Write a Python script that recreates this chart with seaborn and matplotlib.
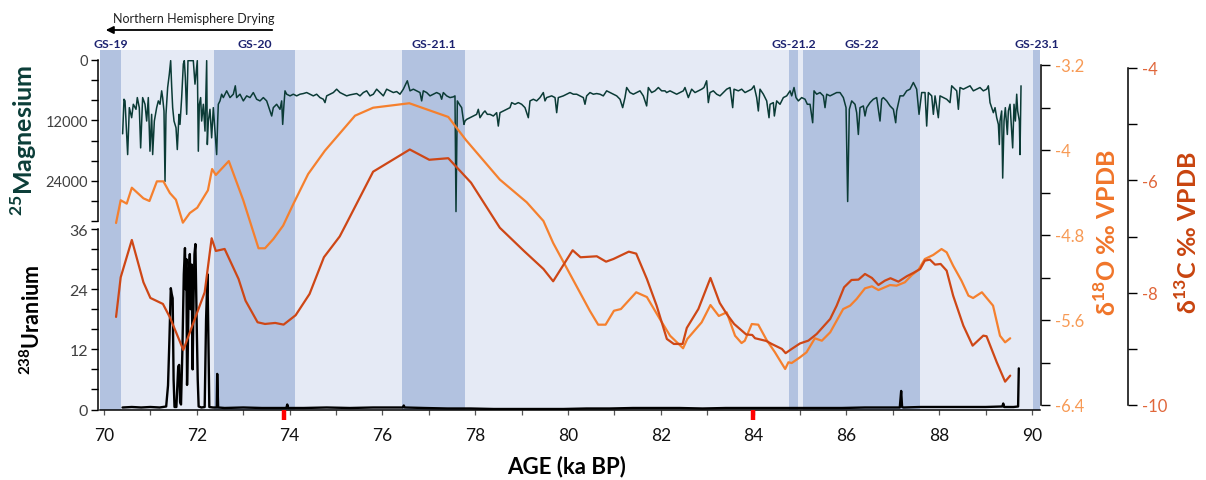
import matplotlib
matplotlib.use("Agg")
import matplotlib.pyplot as plt
import seaborn as sns
import pandas as pd
from matplotlib.ticker import FixedLocator, FixedFormatter

# ---------------- data ----------------
# GS stadial bands (ka BP)
band_names = ["GS-19", "GS-20", "GS-21.1", "GS-21.2", "GS-22", "GS-23.1"]
band_start = [69.914, 72.371, 76.422, 84.763, 85.065, 90.022]
band_end = [70.366, 74.116, 77.780, 84.957, 87.586, 90.172]

# red markers on the age axis
red_marks = [73.88, 83.99]

# 25Mg (age ka, counts)
magnesium = [
    (70.402, 14670), (70.431, 7800), (70.453, 8130), (70.510, 18800), (70.546, 9470),
    (70.596, 11470), (70.632, 8800), (70.690, 9800), (70.718, 7470), (70.761, 9470),
    (70.790, 17470), (70.833, 7470), (70.884, 8800), (70.920, 12130), (70.955, 7470),
    (70.991, 18130), (71.027, 10800), (71.049, 18800), (71.085, 12130), (71.135, 9470),
    (71.171, 8130), (71.207, 8800), (71.243, 6130), (71.264, 7470), (71.293, 10130),
    (71.315, 24130), (71.336, 10800), (71.372, 5470), (71.408, 2800), (71.437, 130),
    (71.458, 5130), (71.480, 9470), (71.509, 12130), (71.552, 13470), (71.580, 17800),
    (71.616, 10800), (71.638, 12800), (71.674, 7470), (71.710, 800), (71.731, 130),
    (71.753, 3470), (71.782, 10800), (71.810, 130), (71.853, 130), (71.897, 130),
    (71.925, 130), (71.961, 4800), (71.983, 2800), (72.011, 130), (72.033, 18130),
    (72.055, 8800), (72.083, 7470), (72.105, 12130), (72.141, 8800), (72.177, 14130),
    (72.213, 130), (72.227, 16800), (72.249, 12130), (72.284, 9800), (72.320, 15470),
    (72.356, 9470), (72.392, 14130), (72.428, 18800), (72.450, 12130), (72.464, 8800),
    (72.500, 8130), (72.536, 6800), (72.572, 7470), (72.644, 6130), (72.716, 7470),
    (72.787, 6800), (72.830, 5130), (72.859, 7470), (72.931, 6800), (73.003, 8130),
    (73.075, 7130), (73.147, 7470), (73.218, 6470), (73.290, 7800), (73.362, 8130),
    (73.434, 7470), (73.506, 8130), (73.578, 10130), (73.614, 11130), (73.649, 9470),
    (73.721, 8800), (73.793, 9800), (73.829, 8130), (73.851, 12800), (73.879, 8800),
    (73.901, 6130), (73.937, 6800), (74.009, 7130), (74.080, 6800), (74.152, 7130),
    (74.224, 6800), (74.296, 6670), (74.368, 6470), (74.440, 6800), (74.511, 7130),
    (74.583, 6800), (74.655, 7470), (74.727, 7800), (74.763, 8470), (74.799, 7130),
    (74.871, 6800), (74.943, 6470), (75.014, 5800), (75.086, 6470), (75.158, 6800),
    (75.230, 7130), (75.302, 6930), (75.374, 6800), (75.445, 6670), (75.517, 7130),
    (75.589, 6470), (75.661, 6130), (75.733, 7130), (75.805, 6800), (75.876, 5800),
    (75.948, 6470), (76.020, 7130), (76.092, 5800), (76.164, 6130), (76.236, 6470),
    (76.307, 6270), (76.379, 6800), (76.451, 5800), (76.537, 4130), (76.595, 6130),
    (76.667, 5800), (76.738, 6130), (76.810, 6470), (76.846, 8130), (76.882, 6130),
    (76.954, 6470), (77.026, 7130), (77.097, 6800), (77.169, 6470), (77.241, 6800),
    (77.277, 7800), (77.313, 6470), (77.385, 7130), (77.457, 7470), (77.528, 7330),
    (77.564, 7130), (77.586, 30130), (77.615, 8130), (77.658, 8800), (77.708, 9470),
    (77.758, 12800), (77.780, 12130), (77.816, 11800), (77.888, 11470), (77.959, 11130),
    (78.031, 10800), (78.067, 9800), (78.103, 11470), (78.175, 10470), (78.211, 10130),
    (78.261, 10800), (78.319, 10800), (78.391, 11130), (78.462, 10470), (78.498, 13130),
    (78.534, 10470), (78.606, 10130), (78.678, 9800), (78.750, 9470), (78.786, 8470),
    (78.857, 8800), (78.929, 8470), (79.001, 8800), (79.073, 9470), (79.109, 10470),
    (79.145, 11470), (79.181, 8130), (79.253, 7800), (79.324, 8130), (79.396, 7470),
    (79.468, 6470), (79.504, 8130), (79.540, 7470), (79.648, 7130), (79.720, 7470),
    (79.756, 10470), (79.791, 7470), (79.899, 7130), (79.971, 6800), (80.043, 6470),
    (80.115, 6800), (80.187, 6800), (80.258, 7130), (80.330, 7470), (80.366, 8800),
    (80.402, 7130), (80.474, 6470), (80.546, 6800), (80.618, 6670), (80.689, 6800),
    (80.761, 7130), (80.833, 6130), (80.905, 6470), (80.977, 6800), (81.049, 7130),
    (81.121, 7800), (81.178, 9470), (81.228, 7470), (81.264, 5470), (81.336, 6470),
    (81.408, 6800), (81.480, 6470), (81.551, 6130), (81.623, 7130), (81.695, 9130),
    (81.731, 5470), (81.803, 6470), (81.875, 6130), (81.947, 5470), (82.018, 6130),
    (82.090, 6130), (82.126, 6470), (82.198, 6130), (82.270, 6470), (82.342, 6800),
    (82.414, 6470), (82.485, 6130), (82.521, 5470), (82.593, 7470), (82.665, 5800),
    (82.737, 6470), (82.809, 6130), (82.881, 5800), (82.931, 5470), (82.988, 4130),
    (83.024, 8470), (83.060, 6470), (83.132, 6130), (83.204, 6800), (83.276, 7130),
    (83.348, 6470), (83.420, 5800), (83.492, 5470), (83.549, 9470), (83.578, 5800),
    (83.671, 6130), (83.743, 5800), (83.815, 6470), (83.887, 6130), (83.958, 5800),
    (84.009, 5130), (84.066, 7470), (84.102, 10130), (84.138, 5800), (84.210, 6800),
    (84.282, 8130), (84.332, 11470), (84.354, 8800), (84.425, 8470), (84.447, 11130),
    (84.497, 8130), (84.569, 8800), (84.641, 7470), (84.713, 7130), (84.785, 6130),
    (84.821, 7130), (84.871, 5470), (84.914, 7470), (84.964, 8130), (85.036, 7470),
    (85.108, 7800), (85.158, 8800), (85.216, 8800), (85.273, 12470), (85.302, 6130),
    (85.359, 6800), (85.431, 6470), (85.503, 7130), (85.539, 9470), (85.575, 6800),
    (85.647, 7130), (85.719, 6800), (85.790, 6470), (85.862, 6470), (85.934, 7470),
    (85.992, 9470), (86.027, 28130), (86.063, 9800), (86.114, 8130), (86.185, 8800),
    (86.221, 10470), (86.257, 14800), (86.293, 9470), (86.365, 9130), (86.401, 11130),
    (86.437, 9470), (86.509, 8470), (86.580, 7800), (86.652, 7470), (86.724, 12130),
    (86.760, 7800), (86.796, 7470), (86.868, 8130), (86.940, 9130), (87.012, 9800),
    (87.062, 12470), (87.083, 10130), (87.155, 7130), (87.227, 7130), (87.299, 6130),
    (87.371, 5800), (87.443, 4470), (87.514, 5800), (87.565, 10800), (87.622, 6470),
    (87.694, 6470), (87.730, 13130), (87.766, 6470), (87.838, 7130), (87.874, 10800),
    (87.910, 7130), (87.981, 11470), (88.017, 7130), (88.089, 7470), (88.161, 7800),
    (88.233, 8470), (88.269, 5130), (88.305, 5470), (88.377, 6130), (88.413, 9800),
    (88.448, 5470), (88.520, 5800), (88.592, 5470), (88.664, 5130), (88.736, 6130),
    (88.808, 5800), (88.879, 5470), (88.951, 6130), (89.023, 5800), (89.059, 5130),
    (89.095, 8470), (89.131, 9470), (89.167, 10470), (89.203, 9470), (89.239, 11470),
    (89.275, 12800), (89.296, 16800), (89.310, 12130), (89.346, 10130), (89.368, 23470),
    (89.397, 12130), (89.425, 9470), (89.468, 14800), (89.490, 10130), (89.526, 8800),
    (89.562, 14130), (89.583, 17470), (89.612, 8800), (89.641, 12130), (89.670, 6800),
    (89.691, 10130), (89.727, 12130), (89.741, 18800), (89.763, 5130),
]

# 238U (age ka, counts)
uranium = [
    (70.40, 0.4), (70.60, 0.5), (70.80, 0.4), (71.00, 0.5), (71.20, 0.4), (71.34, 0.6),
    (71.38, 4.8), (71.41, 14.0), (71.44, 24.2), (71.46, 23.0), (71.48, 22.2), (71.50, 6.0),
    (71.52, 0.5), (71.56, 0.5), (71.60, 8.6), (71.62, 8.9), (71.64, 1.5), (71.66, 1.0),
    (71.69, 12.0), (71.72, 27.0), (71.745, 32.2), (71.76, 24.0), (71.775, 30.0), (71.79, 4.9),
    (71.81, 14.0), (71.83, 27.5), (71.85, 31.0), (71.87, 20.0), (71.89, 28.9), (71.91, 8.0),
    (71.93, 22.0), (71.95, 31.0), (71.97, 33.0), (72.00, 16.0), (72.02, 6.0), (72.04, 0.6),
    (72.10, 0.4), (72.17, 0.5), (72.20, 18.0), (72.23, 27.0), (72.25, 14.0), (72.27, 0.5),
    (72.35, 0.4), (72.43, 0.4), (72.44, 7.1), (72.46, 0.4), (72.60, 0.3), (73.00, 0.4),
    (73.40, 0.3), (73.80, 0.3), (73.93, 0.3), (73.95, 1.0), (73.97, 0.3), (74.30, 0.3),
    (74.80, 0.4), (75.30, 0.3), (75.80, 0.4), (76.20, 0.4), (76.44, 0.4), (76.46, 0.8),
    (76.48, 0.4), (76.90, 0.3), (77.40, 0.2), (77.90, 0.2), (78.40, 0.1), (78.90, 0.1),
    (79.40, 0.1), (79.90, 0.1), (80.40, 0.2), (80.90, 0.2), (81.40, 0.3), (81.90, 0.3),
    (82.40, 0.3), (82.90, 0.2), (83.40, 0.3), (83.90, 0.3), (84.40, 0.3), (84.90, 0.3),
    (85.40, 0.3), (85.90, 0.3), (86.40, 0.4), (86.90, 0.4), (87.15, 0.4), (87.18, 3.7),
    (87.20, 0.5), (87.23, 0.4), (87.60, 0.5), (88.00, 0.5), (88.50, 0.5), (89.00, 0.5),
    (89.36, 0.6), (89.38, 1.2), (89.40, 0.5), (89.60, 0.5), (89.70, 0.6), (89.715, 8.2),
]

# d18O (age ka, permil VPDB)
d18o = [
    (70.26, -4.687), (70.36, -4.473), (70.49, -4.505), (70.60, -4.355), (70.85, -4.455),
    (70.98, -4.480), (71.14, -4.295), (71.28, -4.295), (71.42, -4.405), (71.55, -4.468),
    (71.70, -4.684), (71.85, -4.593), (72.01, -4.543), (72.24, -4.379), (72.33, -4.179),
    (72.41, -4.235), (72.69, -4.104), (73.00, -4.471), (73.33, -4.925), (73.47, -4.925),
    (73.65, -4.838), (73.86, -4.712), (74.08, -4.508), (74.40, -4.226), (74.76, -4.007),
    (75.41, -3.677), (75.80, -3.602), (76.58, -3.560), (77.42, -3.689), (77.80, -3.906),
    (78.53, -4.278), (79.11, -4.492), (79.47, -4.668), (79.68, -4.875), (80.08, -5.198),
    (80.47, -5.513), (80.65, -5.644), (80.81, -5.644), (80.99, -5.513), (81.14, -5.497),
    (81.47, -5.339), (81.70, -5.384), (81.98, -5.591), (82.20, -5.748), (82.48, -5.866),
    (82.57, -5.779), (82.88, -5.622), (83.07, -5.459), (83.25, -5.562), (83.42, -5.528),
    (83.60, -5.748), (83.74, -5.817), (83.81, -5.795), (83.96, -5.638), (84.10, -5.644),
    (84.28, -5.788), (84.46, -5.904), (84.68, -6.061), (84.75, -5.998), (84.82, -6.005),
    (85.00, -5.951), (85.14, -5.904), (85.32, -5.772), (85.47, -5.795), (85.65, -5.716),
    (85.93, -5.497), (86.08, -5.465), (86.22, -5.402), (86.40, -5.302), (86.55, -5.283),
    (86.69, -5.318), (86.94, -5.271), (87.08, -5.277), (87.26, -5.245), (87.41, -5.177),
    (87.55, -5.129), (87.69, -5.026), (87.87, -4.988), (88.05, -4.932), (88.16, -4.963),
    (88.30, -5.089), (88.48, -5.230), (88.63, -5.371), (88.73, -5.393), (88.92, -5.339),
    (89.16, -5.465), (89.31, -5.748), (89.42, -5.810), (89.53, -5.772),
]

# d13C (age ka, permil VPDB)
d13c = [
    (70.26, -8.432), (70.36, -7.726), (70.60, -7.062), (70.85, -7.815), (71.00, -8.094),
    (71.27, -8.201), (71.42, -8.438), (71.71, -9.020), (72.17, -7.993), (72.32, -7.031),
    (72.41, -7.257), (72.60, -7.222), (72.90, -7.756), (73.05, -8.142), (73.31, -8.527),
    (73.47, -8.557), (73.69, -8.539), (73.87, -8.569), (74.13, -8.402), (74.43, -8.023),
    (74.74, -7.369), (75.08, -6.999), (75.22, -6.777), (75.80, -5.846), (76.59, -5.451),
    (77.01, -5.634), (77.42, -5.606), (77.91, -6.042), (78.53, -6.844), (79.05, -7.257),
    (79.47, -7.578), (79.68, -7.797), (80.10, -7.245), (80.27, -7.370), (80.62, -7.352),
    (80.82, -7.448), (80.98, -7.400), (81.31, -7.270), (81.47, -7.305), (81.70, -7.756),
    (81.91, -8.231), (82.13, -8.824), (82.28, -8.913), (82.47, -8.913), (82.56, -8.628),
    (82.81, -8.290), (83.07, -7.738), (83.27, -8.183), (83.42, -8.379), (83.58, -8.557),
    (83.84, -8.744), (83.97, -8.753), (84.03, -8.811), (84.27, -8.859), (84.39, -8.913),
    (84.61, -9.002), (84.69, -9.077), (84.82, -9.002), (85.00, -8.904), (85.18, -8.854),
    (85.36, -8.735), (85.65, -8.468), (85.79, -8.231), (85.95, -7.904), (86.11, -7.774),
    (86.26, -7.768), (86.40, -7.667), (86.55, -7.738), (86.69, -7.863), (86.83, -7.786),
    (86.95, -7.743), (87.12, -7.804), (87.30, -7.708), (87.44, -7.649), (87.59, -7.578),
    (87.69, -7.430), (87.80, -7.412), (87.91, -7.501), (88.03, -7.489), (88.16, -7.608),
    (88.30, -8.053), (88.52, -8.587), (88.72, -8.943), (88.95, -8.765), (89.02, -8.776),
    (89.24, -9.239), (89.42, -9.584), (89.53, -9.477),
]

# tick values / labels
x_major = [70, 72, 74, 76, 78, 80, 82, 84, 86, 88, 90]
x_minor = [71, 73, 75, 77, 79, 81, 83, 85, 87, 89]
mg_major = [0, 12000, 24000]
mg_minor = [4000, 8000, 16000, 20000, 28000, 32000]
u_major = [0, 12, 24, 36]
u_minor = [4, 8, 16, 20, 28, 32]
o_major = [-6.4, -5.6, -4.8, -4.0, -3.2]
o_labels = ["-6.4", "-5.6", "-4.8", "-4", "-3.2"]
o_minor = [-6.0, -5.2, -4.4, -3.6]
c_major = [-10, -8, -6, -4]
c_labels = ["-10", "-8", "-6", "-4"]
c_minor = [-9, -7, -5]

# ---------------- style ----------------
sns.set_theme(style="white")
plt.rcParams["font.family"] = ["Lato", "DejaVu Sans"]
plt.rcParams["mathtext.fontset"] = "custom"
plt.rcParams["mathtext.rm"] = "Lato"
plt.rcParams["mathtext.bf"] = "Lato:bold"
plt.rcParams["axes.unicode_minus"] = False

LIGHT = "#E5EAF5"
DARK = "#B2C2E0"
MG_C = "#0B3B36"
O_C = "#F5802E"
C_C = "#CE4716"
NAVY = "#1C2270"

W, H = 1206, 481
fig = plt.figure(figsize=(W / 100, H / 100), dpi=100)


def rect(x0, x1, ytop, ybot):
    return [x0 / W, 1 - ybot / H, (x1 - x0) / W, (ybot - ytop) / H]


XL = (69.914, 90.172)

# background axes
ax = fig.add_axes(rect(100, 1040, 51, 411))
ax.set_facecolor(LIGHT)
ax.set_xlim(*XL)
ax.set_ylim(0, 1)
for s0, s1 in zip(band_start, band_end):
    ax.axvspan(s0, s1, color=DARK, lw=0, zorder=0)
for sp in ["left", "right", "top"]:
    ax.spines[sp].set_visible(False)
ax.spines["bottom"].set_color("black")
ax.spines["bottom"].set_linewidth(1.1)
ax.set_yticks([])
ax.xaxis.set_major_locator(FixedLocator(x_major))
ax.xaxis.set_minor_locator(FixedLocator(x_minor))
ax.tick_params(axis="x", which="both", direction="out", length=3.6, width=0.9,
               color="#555555", bottom=True)
ax.tick_params(axis="x", which="major", labelsize=12.5, labelcolor="#111111", pad=9)
ax.vlines(red_marks, -0.028, 0.0, transform=ax.get_xaxis_transform(),
          color="#FF0000", lw=3.2, clip_on=False, zorder=5)
for name, s0, s1 in zip(band_names, band_start, band_end):
    ax.text((s0 + s1) / 2, 1.0167, name, transform=ax.get_xaxis_transform(),
            ha="center", va="center", fontsize=8.8, fontweight="bold", color=NAVY,
            clip_on=False)


def overlay(r):
    a = fig.add_axes(r)
    a.set_facecolor("none")
    a.set_xlim(*XL)
    for sp in a.spines.values():
        sp.set_visible(False)
    a.set_xticks([])
    return a


# Magnesium
axMg = overlay(rect(100, 1040, 61, 222))
dmg = pd.DataFrame(magnesium, columns=["age", "val"])
sns.lineplot(data=dmg, x="age", y="val", ax=axMg, color=MG_C, lw=1.1,
             estimator=None, sort=False)
axMg.set_ylim(32000, 0)
axMg.spines["left"].set_visible(True)
axMg.spines["left"].set_position(("outward", 1.5))

# Uranium
axU = overlay(rect(100, 1040, 230, 410.5))
du = pd.DataFrame(uranium, columns=["age", "val"])
sns.lineplot(data=du, x="age", y="val", ax=axU, color="black", lw=1.7,
             estimator=None, sort=False)
axU.set_ylim(0, 36)
axU.spines["left"].set_visible(True)
axU.spines["left"].set_position(("outward", 1.5))

for a, mj, mn, ls in [(axMg, mg_major, mg_minor, 10.5), (axU, u_major, u_minor, 11.5)]:
    a.yaxis.set_major_locator(FixedLocator(mj))
    a.yaxis.set_minor_locator(FixedLocator(mn))
    a.yaxis.set_major_formatter(FixedFormatter([str(v) for v in mj]))
    a.spines["left"].set_color("black")
    a.spines["left"].set_linewidth(1.1)
    a.tick_params(axis="y", which="both", left=True, direction="out", length=5,
                  width=1.0, color="black")
    a.tick_params(axis="y", which="major", labelsize=ls, labelcolor="#404040", pad=2)

# d18O
axO = overlay(rect(100, 1040, 66, 406))
do = pd.DataFrame(d18o, columns=["age", "val"])
sns.lineplot(data=do, x="age", y="val", ax=axO, color=O_C, lw=1.6,
             estimator=None, sort=False)
axO.set_ylim(-6.4, -3.2)
axO.spines["right"].set_visible(True)
axO.spines["right"].set_position(("outward", 0.7))

# d13C
axC = overlay(rect(100, 1040, 69, 406))
dc = pd.DataFrame(d13c, columns=["age", "val"])
sns.lineplot(data=dc, x="age", y="val", ax=axC, color=C_C, lw=1.6,
             estimator=None, sort=False)
axC.set_ylim(-10, -4)
axC.spines["right"].set_visible(True)
axC.spines["right"].set_position(("outward", 63.4))

for a, mj, lb, mn, lc in [(axO, o_major, o_labels, o_minor, "#F79A55"),
                          (axC, c_major, c_labels, c_minor, "#E0663A")]:
    a.yaxis.tick_right()
    a.yaxis.set_major_locator(FixedLocator(mj))
    a.yaxis.set_minor_locator(FixedLocator(mn))
    a.yaxis.set_major_formatter(FixedFormatter(lb))
    a.spines["right"].set_color("black")
    a.spines["right"].set_linewidth(1.1)
    a.tick_params(axis="y", which="both", right=True, left=False, direction="out",
                  length=6.5, width=1.0, color="black")
    a.tick_params(axis="y", which="major", labelsize=12, labelcolor=lc, pad=3.5)

for a in (axMg, axU, axO, axC):
    a.set_xlabel("")
    a.set_ylabel("")

# labels
fig.text(567 / W, 1 - 467 / H, "AGE (ka BP)", ha="center", va="center",
         fontsize=16, fontweight="bold", color="black")
fig.text(24 / W, 1 - 140 / H, r"$^{\mathbf{25}}$Magnesium", rotation=90, ha="center",
         va="center", fontsize=18, fontweight="bold", color="#0B3D38")
fig.text(32 / W, 1 - 320 / H, r"$^{\mathbf{238}}$Uranium", rotation=90, ha="center",
         va="center", fontsize=15.5, fontweight="bold", color="black")
fig.text(1107 / W, 1 - 233 / H, r"δ$^{\mathbf{18}}$O ‰ VPDB", rotation=90, ha="center",
         va="center", fontsize=18, fontweight="bold", color="#F0752A")
fig.text(1188 / W, 1 - 233 / H, r"δ$^{\mathbf{13}}$C ‰ VPDB", rotation=90, ha="center",
         va="center", fontsize=18, fontweight="bold", color="#C8440F")

fig.text(194 / W, 1 - 19 / H, "Northern Hemisphere Drying", ha="center", va="center",
         fontsize=9, color="#222222")
ax.annotate("", xy=(103 / W, 1 - 31 / H), xytext=(275 / W, 1 - 31 / H),
            xycoords="figure fraction", textcoords="figure fraction",
            arrowprops=dict(arrowstyle="-|>", color="black", lw=1.3, mutation_scale=11),
            annotation_clip=False)

fig.savefig("out.png", dpi=100)
